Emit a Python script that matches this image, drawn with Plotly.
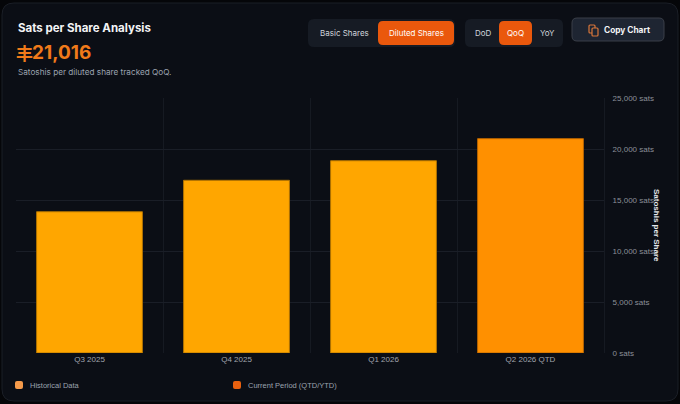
import plotly.graph_objects as go

# ------ data ------ #
periods = ["Q3 2025", "Q4 2025", "Q1 2026", "Q2 2026 QTD"]
sats_per_share = [13850, 16930, 18850, 21016]
is_current = [False, False, False, True]
y_ticks = [0, 5000, 10000, 15000, 20000, 25000]
legend_items = ["Historical Data", "Current Period (QTD/YTD)"]

W, H = 680, 404
L, R, T, B = 16, 604, 98, 353  # plot area in pixels

HIST_COLOR = "#FFA600"
CURR_COLOR = "#FF9000"
ORANGE_BTN = "#EA580C"
CARD_BG = "#0B0E15"
FONT = "Inter, 'Open Sans', sans-serif"
TICK_FONT = "'Liberation Sans', Arial, sans-serif"


def px(x):
    return (x - L) / (R - L)


def py(y):
    return (B - y) / (B - T)


def rounded_rect(x0, y0, x1, y1, r, fill, line="rgba(0,0,0,0)", lw=0, layer="below"):
    # path in paper coords, corners given in pixels
    rx = r / (R - L)
    ry = r / (B - T)
    a0, a1 = px(x0), px(x1)
    b0, b1 = py(y1), py(y0)  # bottom, top
    path = (
        f"M {a0 + rx},{b0} L {a1 - rx},{b0} Q {a1},{b0} {a1},{b0 + ry} "
        f"L {a1},{b1 - ry} Q {a1},{b1} {a1 - rx},{b1} "
        f"L {a0 + rx},{b1} Q {a0},{b1} {a0},{b1 - ry} "
        f"L {a0},{b0 + ry} Q {a0},{b0} {a0 + rx},{b0} Z"
    )
    return dict(type="path", xref="paper", yref="paper", path=path,
                fillcolor=fill, line=dict(color=line, width=lw), layer=layer)


colors = [CURR_COLOR if c else HIST_COLOR for c in is_current]
edge = ["#B86400" if c else "#B07200" for c in is_current]

fig = go.Figure()
fig.add_trace(
    go.Bar(
        x=periods,
        y=sats_per_share,
        width=0.72,
        marker=dict(color=colors, line=dict(color=edge, width=1)),
        showlegend=False,
        hovertemplate="%{x}<br>%{y:,} sats<extra></extra>",
    )
)

shapes = [
    rounded_rect(2, 3, 678, 401, 12, CARD_BG, "#1A1E26", 1),
    # share type toggle
    rounded_rect(308, 19, 455, 47, 6, "#161B24"),
    rounded_rect(378, 21, 454, 45, 5, ORANGE_BTN),
    # period toggle
    rounded_rect(465, 19, 563, 47, 6, "#161B24"),
    rounded_rect(499, 21, 532, 45, 5, ORANGE_BTN),
    # copy button
    rounded_rect(572, 18, 664, 41, 5, "#1E2532", "#3A3F48", 1),
    # copy icon
    rounded_rect(589, 25, 595, 33, 1, "rgba(0,0,0,0)", "#D9773A", 1.2, "above"),
    rounded_rect(592, 28, 598, 36, 1, "#1E2532", "#D9773A", 1.2, "above"),
    # legend swatches
    rounded_rect(15, 381, 23, 389, 2, "#F59A4A", layer="above"),
    rounded_rect(233, 381, 241, 389, 2, "#E8600F", layer="above"),
]

annotations = [
    dict(x=px(16), y=py(28), text="<b>Sats per Share Analysis</b>", xanchor="left",
         font=dict(size=11.5, color="#F3F4F6", family=FONT)),
    dict(x=px(14), y=py(53), text="<b>丰</b>", xanchor="left",
         font=dict(size=17, color="#F07A1A", family="Noto Sans CJK SC")),
    dict(x=px(30), y=py(53), text="<b>21,016</b>", xanchor="left",
         font=dict(size=19, color="#F07A1A", family=FONT)),
    dict(x=px(16), y=py(72), text="Satoshis per diluted share tracked QoQ.", xanchor="left",
         font=dict(size=8.2, color="#9CA3AF", family=FONT)),
    dict(x=px(344), y=py(33), text="Basic Shares",
         font=dict(size=8, color="#D1D5DB", family=FONT)),
    dict(x=px(416), y=py(33), text="Diluted Shares",
         font=dict(size=8, color="#FFFFFF", family=FONT)),
    dict(x=px(483), y=py(33), text="DoD",
         font=dict(size=8, color="#D1D5DB", family=FONT)),
    dict(x=px(515.5), y=py(33), text="QoQ",
         font=dict(size=8, color="#FFFFFF", family=FONT)),
    dict(x=px(547), y=py(33), text="YoY",
         font=dict(size=8, color="#D1D5DB", family=FONT)),
    dict(x=px(627), y=py(30), text="<b>Copy Chart</b>",
         font=dict(size=8.3, color="#F3F4F6", family=FONT)),
    dict(x=px(657), y=py(225), text="<b>Satoshis per Share</b>", textangle=90,
         font=dict(size=8, color="#E5E7EB", family=TICK_FONT)),
    dict(x=px(28), y=py(385), text=legend_items[0], xanchor="left",
         font=dict(size=7.5, color="#9CA3AF", family=TICK_FONT)),
    dict(x=px(246), y=py(385), text=legend_items[1], xanchor="left",
         font=dict(size=7.5, color="#9CA3AF", family=TICK_FONT)),
]
for a in annotations:
    a.update(xref="paper", yref="paper", showarrow=False, yanchor="middle")
    a.setdefault("xanchor", "center")

fig.update_layout(
    width=W,
    height=H,
    margin=dict(l=L, r=W - R, t=T, b=H - B, pad=0),
    paper_bgcolor="#050609",
    plot_bgcolor="rgba(0,0,0,0)",
    shapes=shapes,
    annotations=annotations,
    showlegend=False,
    xaxis=dict(
        type="category",
        tickson="boundaries",
        showgrid=True,
        gridcolor="#161A22",
        ticks="",
        showline=False,
        zeroline=False,
        tickfont=dict(size=8, color="#A1A5AD", family=TICK_FONT),
        range=[-0.5, 3.5],
    ),
    yaxis=dict(
        side="right",
        range=[0, 25000],
        tickvals=y_ticks,
        ticktext=[f"{v:,} sats" for v in y_ticks],
        showgrid=True,
        gridcolor="#1A1E27",
        zeroline=False,
        showline=True,
        linecolor="#161A22",
        ticks="",
        ticklabelstandoff=6,
        tickfont=dict(size=8, color="#8B9099", family=TICK_FONT),
    ),
)

fig.write_html(
    "out.html",
    config={"displayModeBar": False},
    post_script="document.body.style.margin='0';document.body.style.overflow='hidden';",
)
